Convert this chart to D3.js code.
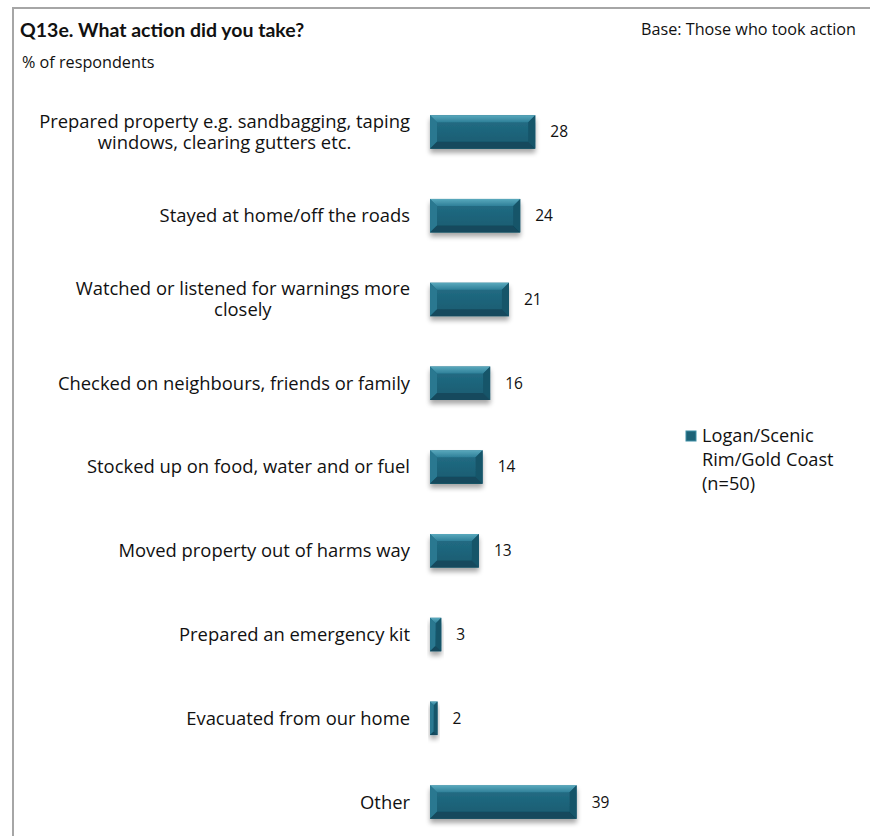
<!DOCTYPE html>
<html>
<head>
<meta charset="utf-8">
<script src="https://cdn.jsdelivr.net/npm/d3@7"></script>
<style>
  html, body { margin: 0; padding: 0; background: #fff; }
  svg { display: block; }
  text { font-family: "Open Sans", Lato, sans-serif; fill: #111; }
  text.title { font-family: Lato, "Open Sans", sans-serif; font-weight: bold; }
</style>
</head>
<body>
<svg id="chart" width="870" height="836"></svg>
<script>
// Survey question Q13e: actions taken (% of respondents)
const categories = [
  "Prepared property e.g. sandbagging, taping\nwindows, clearing gutters etc.",
  "Stayed at home/off the roads",
  "Watched or listened for warnings more\nclosely",
  "Checked on neighbours, friends or family",
  "Stocked up on food, water and or fuel",
  "Moved property out of harms way",
  "Prepared an emergency kit",
  "Evacuated from our home",
  "Other"
];
const values = [28, 24, 21, 16, 14, 13, 3, 2, 39];
const seriesName = ["Logan/Scenic", "Rim/Gold Coast", "(n=50)"];
const titleText = "Q13e. What action did you take?";
const subtitleText = "% of respondents";
const baseText = "Base: Those who took action";

const svg = d3.select("#chart");
const W = 870, H = 836;

// Frame
svg.append("path")
  .attr("d", `M13,${H} L13,8 L${W},8`)
  .attr("fill", "none").attr("stroke", "#a6a6a6").attr("stroke-width", 2);

// Headings
svg.append("text").attr("class", "title").attr("x", 20).attr("y", 37)
  .attr("font-size", 19.5).text(titleText);
svg.append("text").attr("x", 22).attr("y", 68)
  .attr("font-size", 16.2).text(subtitleText);
svg.append("text").attr("x", 856).attr("y", 35).attr("text-anchor", "end")
  .attr("font-size", 16.2).text(baseText);

// Scales
const x = d3.scaleLinear().domain([0, 40]).range([430, 430 + 40 * 3.76]);
const y = d3.scaleBand().domain(categories).range([90, 844])
  .paddingInner(0.6).paddingOuter(0.3);

// Gradients and shadow
const defs = svg.append("defs");
const faceGrad = defs.append("linearGradient").attr("id", "face")
  .attr("x1", 0).attr("y1", 0).attr("x2", 0).attr("y2", 1);
faceGrad.append("stop").attr("offset", "0%").attr("stop-color", "#236e87");
faceGrad.append("stop").attr("offset", "100%").attr("stop-color", "#185b6f");
const topGrad = defs.append("linearGradient").attr("id", "bevTop")
  .attr("x1", 0).attr("y1", 0).attr("x2", 0).attr("y2", 1);
topGrad.append("stop").attr("offset", "0%").attr("stop-color", "#5aa9bd");
topGrad.append("stop").attr("offset", "100%").attr("stop-color", "#2f8099");
const shadow = defs.append("filter").attr("id", "shadow")
  .attr("x", "-20%").attr("y", "-30%").attr("width", "140%").attr("height", "190%");
shadow.append("feGaussianBlur").attr("in", "SourceAlpha").attr("stdDeviation", 2.5).attr("result", "b");
shadow.append("feOffset").attr("in", "b").attr("dx", 0).attr("dy", 4).attr("result", "o");
shadow.append("feComponentTransfer").attr("in", "o").attr("result", "s")
  .append("feFuncA").attr("type", "linear").attr("slope", 0.35);
const merge = shadow.append("feMerge");
merge.append("feMergeNode").attr("in", "s");
merge.append("feMergeNode").attr("in", "SourceGraphic");

// Bars with bevelled edges
const rows = categories.map((c, i) => ({ c, v: values[i] }));
const bars = svg.append("g").selectAll("g.bar").data(rows).join("g")
  .attr("class", "bar").attr("filter", "url(#shadow)");

bars.each(function(d) {
  const g = d3.select(this);
  const x0 = x(0), x1 = x(d.v), y0 = y(d.c), y1 = y0 + y.bandwidth();
  const w = x1 - x0;
  const b = Math.min(7, w / 2.2, y.bandwidth() / 3);
  g.append("rect").attr("x", x0).attr("y", y0).attr("width", w).attr("height", y1 - y0)
    .attr("fill", "url(#face)");
  // top bevel
  g.append("path").attr("d", `M${x0},${y0}L${x1},${y0}L${x1 - b},${y0 + b}L${x0 + b},${y0 + b}Z`)
    .attr("fill", "url(#bevTop)");
  // left bevel
  g.append("path").attr("d", `M${x0},${y0}L${x0 + b},${y0 + b}L${x0 + b},${y1 - b}L${x0},${y1}Z`)
    .attr("fill", "#2a7890");
  // right bevel
  g.append("path").attr("d", `M${x1},${y0}L${x1 - b},${y0 + b}L${x1 - b},${y1 - b}L${x1},${y1}Z`)
    .attr("fill", "#175469");
  // bottom bevel
  g.append("path").attr("d", `M${x0},${y1}L${x0 + b},${y1 - b}L${x1 - b},${y1 - b}L${x1},${y1}Z`)
    .attr("fill", "#124a5d");
});

// Value labels
svg.append("g").selectAll("text").data(rows).join("text")
  .attr("x", d => x(d.v) + 15)
  .attr("y", d => y(d.c) + y.bandwidth() / 2)
  .attr("dy", "0.35em").attr("font-size", 15.5)
  .text(d => d.v);

// Category labels: right-aligned block, lines centred within it
const labelRight = 410, lineH = 21;
const labG = svg.append("g");
rows.forEach(d => {
  const lines = d.c.split("\n");
  const cy = y(d.c) + y.bandwidth() / 2;
  const t = labG.append("text").attr("font-size", 18.4).attr("text-anchor", "middle");
  const spans = lines.map((ln, i) => t.append("tspan")
    .attr("y", cy + (i - (lines.length - 1) / 2) * lineH)
    .attr("dy", "0.35em").text(ln));
  const maxW = d3.max(spans, s => s.node().getComputedTextLength());
  spans.forEach(s => s.attr("x", labelRight - maxW / 2));
});

// Legend
const lg = svg.append("g");
lg.append("rect").attr("x", 686).attr("y", 431).attr("width", 10).attr("height", 10)
  .attr("fill", "#1d6277").attr("stroke", "#3d8ea5").attr("stroke-width", 1);
lg.selectAll("text").data(seriesName).join("text")
  .attr("x", 702).attr("y", (d, i) => 442 + i * 24)
  .attr("font-size", 18.2).text(d => d);
</script>
</body>
</html>
